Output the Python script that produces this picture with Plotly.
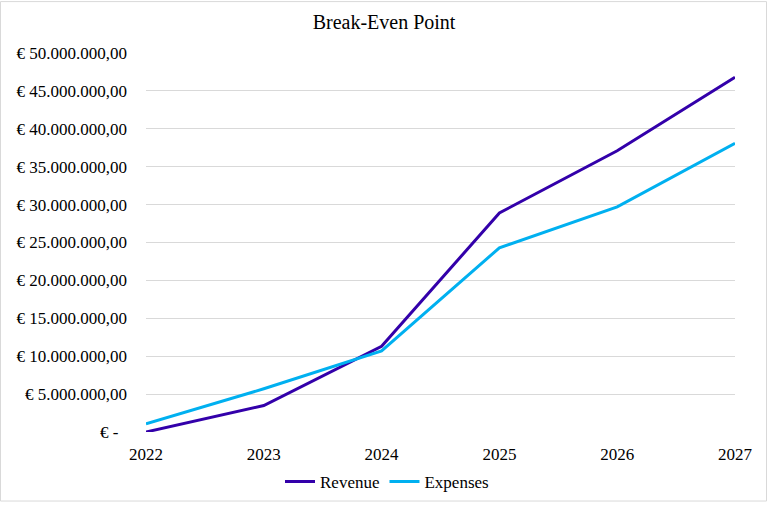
import plotly.graph_objects as go

years = [2022, 2023, 2024, 2025, 2026, 2027]
revenue = [0, 3.5e6, 11.3e6, 28.9e6, 37.1e6, 46.8e6]
expenses = [1.07e6, 5.7e6, 10.7e6, 24.3e6, 29.7e6, 38.1e6]

tick_vals = [i * 5e6 for i in range(11)]


def euro(v):
    if v == 0:
        # accounting-style zero, padded so the dash sits left of the decimals
        return "€ -" + "\u00a0" * 2
    s = f"{v:,.2f}".replace(",", "X").replace(".", ",").replace("X", ".")
    return "€ " + s


tick_text = [euro(v) for v in tick_vals]

W, H = 768, 512
L, R, T, B = 146, 33, 53, 72
pw, ph = W - L - R, H - T - B
SERIF = "Liberation Serif, Times New Roman, serif"

fig = go.Figure()
fig.add_trace(go.Scatter(x=years, y=revenue, name="Revenue", mode="lines",
                         line=dict(color="#3300aa", width=3)))
fig.add_trace(go.Scatter(x=years, y=expenses, name="Expenses", mode="lines",
                         line=dict(color="#00b0f0", width=3)))

fig.update_layout(
    width=W, height=H,
    margin=dict(l=L, r=R, t=T, b=B),
    paper_bgcolor="white", plot_bgcolor="white",
    font=dict(family=SERIF, size=17, color="#000000"),
    title=dict(text="Break-Even Point", x=0.5, xanchor="center", xref="container",
               y=1 - 22 / H, yanchor="middle", yref="container",
               font=dict(family=SERIF, size=20, color="#000000")),
    xaxis=dict(range=[2022, 2027], tickvals=years, ticktext=[str(y) for y in years],
               showgrid=False, zeroline=False, showline=False, ticks="",
               ticklabelstandoff=10,
               tickfont=dict(family=SERIF, size=17), fixedrange=True),
    yaxis=dict(range=[0, 50e6], tickvals=tick_vals, ticktext=tick_text,
               showgrid=True, gridcolor="#d9d9d9", gridwidth=1,
               zeroline=False, showline=False, ticks="", ticklabelstandoff=18,
               tickfont=dict(family=SERIF, size=17)),
    showlegend=True,
    legend=dict(orientation="h", x=(387 - L) / pw, xanchor="center",
                y=(T + ph - 491) / ph, yanchor="middle",
                font=dict(family=SERIF, size=17), itemwidth=30, tracegroupgap=0),
    shapes=[dict(type="rect", xref="paper", yref="paper",
                 x0=(-L + 0.5) / pw, x1=1 + (R - 1.5) / pw,
                 y0=-(B - 1.5) / ph, y1=1 + (T - 0.5) / ph,
                 line=dict(color="#d9d9d9", width=1))],
)

fig.write_html("out.html")
